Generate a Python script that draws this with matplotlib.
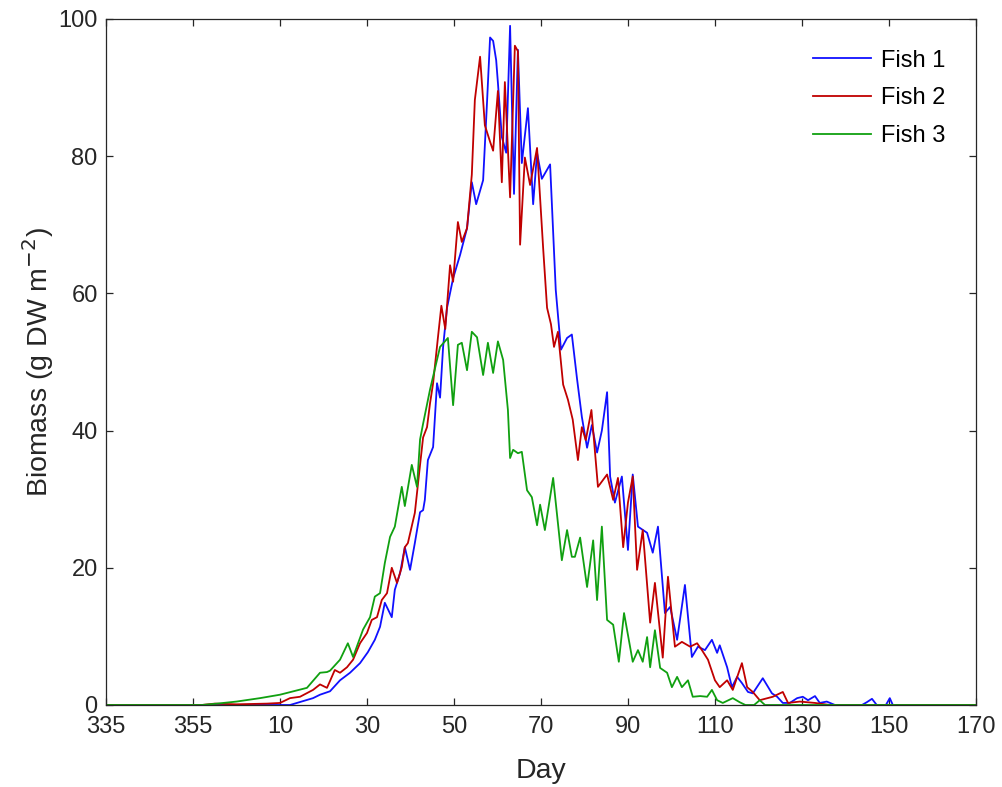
import matplotlib
matplotlib.use("Agg")
import matplotlib.pyplot as plt

plt.rcParams["font.family"] = ["Liberation Sans", "DejaVu Sans"]

# days relative to 1 Jan (negative = previous December)
fish1_day = [-30, 10, 12.3, 17.6, 19.2, 21.5, 23.8, 26.1, 28.4, 30.2, 31.8, 33.0, 34.1, 35.7,
             36.4, 37.6, 38.7, 39.9, 41.0, 42.2, 42.9, 43.3, 44.0, 45.2, 46.1, 46.8, 47.5,
             48.4, 49.8, 51.4, 53.0, 54.1, 55.1, 56.7, 57.6, 58.3, 59.0, 59.7, 60.1, 61.0,
             62.0, 62.9, 63.8, 64.7, 65.6, 67.0, 68.2, 69.1, 70.2, 72.1, 73.4, 74.6, 76.0,
             77.1, 78.3, 79.4, 80.6, 81.7, 82.9, 84.0, 85.2, 85.9, 87.0, 88.6, 90.0, 91.1,
             92.3, 94.4, 95.7, 96.9, 98.5, 99.7, 101.3, 103.1, 104.7, 106.1, 107.7, 109.3,
             110.5, 111.1, 112.8, 113.9, 115.1, 116.2, 117.6, 118.7, 121.0, 123.1, 124.3,
             125.6, 127.2, 128.9, 130.2, 131.4, 133.0, 134.1, 135.7, 137.6, 143.8, 144.9,
             146.1, 147.2, 149.3, 150.2, 150.9, 170]
fish1_val = [0, 0, 0, 1.0, 1.5, 2.0, 3.6, 4.7, 6.1, 7.7, 9.5, 11.4, 14.9, 12.8,
             16.8, 19.2, 23.0, 19.7, 23.6, 28.1, 28.4, 29.9, 35.7, 37.6, 46.9, 44.8, 52.2,
             57.9, 62.2, 65.6, 69.5, 76.2, 73.0, 76.5, 87.9, 97.3, 96.8, 94.0, 90.7, 82.8,
             80.5, 99.0, 74.5, 95.5, 79.0, 87.0, 73.0, 80.5, 76.7, 78.8, 60.5, 51.8, 53.5,
             54.0, 47.5, 42.0, 37.5, 40.8, 36.8, 40.0, 45.6, 33.3, 29.5, 33.3, 22.6, 33.6,
             26.0, 25.1, 22.2, 26.0, 13.4, 14.3, 9.5, 17.5, 7.0, 8.5, 8.0, 9.5,
             7.6, 8.7, 5.5, 2.6, 4.1, 3.2, 1.9, 1.7, 3.9, 1.7, 1.2,
             0.3, 0.3, 1.0, 1.2, 0.7, 1.3, 0.3, 0.5, 0, 0, 0.4,
             0.9, 0, 0, 1.0, 0, 0]

fish2_day = [-30, -8, -5, 0, 7, 10.0, 12.3, 14.6, 17.6, 19.2, 20.8, 21.5, 22.6, 23.8, 25.4,
             26.8, 28.4, 30.0, 31.1, 32.3, 33.4, 34.6, 35.7, 36.9, 38.0, 38.7, 39.4, 41.0,
             42.2, 42.9, 43.8, 44.5, 45.2, 46.3, 47.1, 48.0, 49.1, 49.8, 50.9, 51.8, 53.0,
             54.1, 54.8, 56.0, 57.1, 58.3, 59.0, 60.1, 61.0, 61.7, 62.9, 64.0, 64.7, 65.2,
             66.3, 67.5, 69.1, 70.5, 71.4, 72.3, 73.0, 73.9, 75.1, 76.2, 77.3, 78.5, 79.4,
             80.3, 81.6, 83.1, 85.2, 86.6, 87.7, 88.9, 90.0, 91.1, 92.1, 93.4, 95.1, 96.2,
             98.0, 99.2, 100.8, 102.4, 104.3, 105.9, 107.0, 108.4, 110.0, 111.1, 112.8,
             114.1, 116.2, 117.4, 118.7, 120.3, 123.3, 125.6, 126.8, 129.5, 133.0, 136.4, 170]
fish2_val = [0, 0, 0.2, 0.1, 0.2, 0.3, 1.0, 1.2, 2.2, 3.0, 2.5, 3.5, 5.1, 4.7, 5.5,
             6.6, 9.0, 10.5, 12.4, 12.8, 15.3, 16.3, 20.0, 17.8, 20.1, 23.0, 23.6, 28.0,
             35.0, 39.0, 40.5, 44.0, 46.9, 53.5, 58.2, 54.8, 64.1, 61.7, 70.4, 67.5, 69.5,
             77.3, 88.2, 94.5, 84.5, 82.1, 80.8, 89.5, 76.2, 90.8, 74.0, 96.1, 95.3, 67.1,
             79.8, 75.8, 81.2, 66.6, 57.9, 55.5, 52.2, 54.4, 46.7, 44.5, 41.6, 35.7, 40.5,
             38.6, 43.0, 31.8, 33.6, 29.9, 33.1, 23.0, 29.5, 33.3, 19.7, 25.5, 12.0, 17.8,
             6.9, 18.7, 8.5, 9.2, 8.5, 9.0, 8.0, 6.6, 3.6, 2.6, 3.6,
             2.2, 6.1, 2.6, 1.9, 0.7, 1.2, 1.9, 0.3, 0.5, 0.3, 0, 0]

fish3_day = [-30, -8, -4.5, 0, 5.4, 10.0, 16.2, 19.2, 20.8, 21.5, 23.8, 25.6, 26.8, 29.1,
             30.7, 31.8, 33.0, 34.1, 35.3, 36.4, 38.0, 38.7, 40.3, 41.5, 42.2, 42.9, 44.5,
             46.8, 48.6, 49.8, 50.9, 51.8, 53.0, 54.1, 55.3, 56.7, 57.8, 59.0, 60.1, 61.3,
             62.4, 62.9, 63.6, 64.7, 65.6, 66.8, 67.9, 69.1, 69.8, 70.9, 72.8, 74.8, 76.0,
             77.1, 77.8, 79.0, 80.6, 82.0, 82.9, 84.0, 85.2, 86.6, 87.9, 89.1, 91.1, 92.3,
             93.4, 94.4, 95.1, 96.2, 97.4, 99.0, 100.1, 101.3, 102.4, 103.8, 104.9, 106.6,
             108.2, 109.3, 110.5, 111.8, 114.1, 115.7, 117, 119, 120.3, 121.5, 170]
fish3_val = [0, 0, 0.2, 0.5, 1.0, 1.5, 2.5, 4.7, 4.8, 5.0, 6.6, 9.0, 7.0, 11.0,
             12.8, 15.8, 16.3, 20.7, 24.5, 26.0, 31.8, 29.0, 35.0, 31.8, 38.7, 41.0, 46.0,
             52.2, 53.5, 43.7, 52.5, 52.8, 48.8, 54.4, 53.6, 48.1, 52.8, 48.4, 53.0, 50.3,
             43.0, 36.0, 37.2, 36.7, 36.9, 31.3, 30.3, 26.2, 29.2, 25.5, 33.1, 21.1, 25.5,
             21.6, 21.6, 24.4, 17.2, 24.0, 15.3, 26.0, 12.4, 11.7, 6.3, 13.4, 6.3, 8.0,
             6.3, 9.9, 5.5, 10.9, 5.4, 4.7, 2.6, 4.1, 2.6, 3.6, 1.2, 1.3,
             1.2, 2.2, 0.7, 0.3, 1.0, 0.4, 0, 0, 0.7, 0, 0]

tick_pos = [-30, -10, 10, 30, 50, 70, 90, 110, 130, 150, 170]
tick_lab = ["335", "355", "10", "30", "50", "70", "90", "110", "130", "150", "170"]

fig = plt.figure(figsize=(10.03, 7.87), dpi=100)
ax = fig.add_axes([0.1057, 0.1042, 0.8673, 0.8717])

ax.plot(fish1_day, fish1_val, color="#1010ff", lw=1.3, label="Fish 1")
ax.plot(fish2_day, fish2_val, color="#c00000", lw=1.3, label="Fish 2")
ax.plot(fish3_day, fish3_val, color="#10a010", lw=1.3, label="Fish 3")

ax.set_xlim(-30, 170)
ax.set_ylim(0, 100)
ax.set_xticks(tick_pos)
ax.set_xticklabels(tick_lab)
ax.set_yticks([0, 20, 40, 60, 80, 100])

dark = "#262626"
for s in ax.spines.values():
    s.set_color(dark)
    s.set_linewidth(0.9)
ax.tick_params(direction="in", length=5, width=0.9, colors=dark, labelsize=17,
               top=True, right=True)
ax.tick_params(axis="x", pad=8)
ax.tick_params(axis="y", pad=6)

ax.set_xlabel("Day", fontsize=20.5, color=dark, labelpad=14)
ax.set_ylabel("Biomass (g DW m$^{-2}$)", fontsize=20.5, color=dark, labelpad=2)

ax.legend(loc="upper right", frameon=False, fontsize=17, handlelength=2.45,
          handletextpad=0.42, labelspacing=0.67, borderaxespad=0.9)

fig.savefig("out.png", dpi=100)
